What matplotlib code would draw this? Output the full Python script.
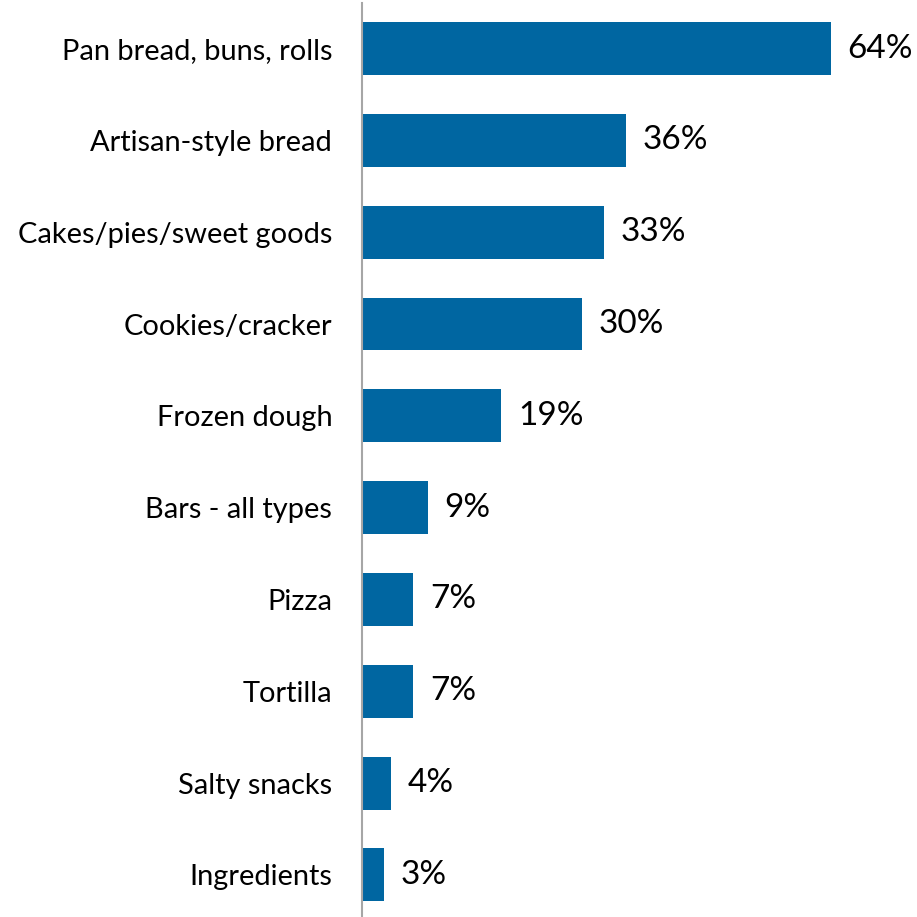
import matplotlib
matplotlib.use("Agg")
import matplotlib.pyplot as plt

categories = ["Pan bread, buns, rolls", "Artisan-style bread", "Cakes/pies/sweet goods",
              "Cookies/cracker", "Frozen dough", "Bars - all types", "Pizza",
              "Tortilla", "Salty snacks", "Ingredients"]
values = [64, 36, 33, 30, 19, 9, 7, 7, 4, 3]

plt.rcParams['font.family'] = ['Lato', 'DejaVu Sans']
fig = plt.figure(figsize=(9.17, 9.17), dpi=100)
ax = fig.add_axes([362/917, 0, 1 - 362/917, 1 - 3/917])
ypos = list(range(len(categories)))
ax.barh(ypos, values, height=0.577, color="#0066A1")
ax.set_xlim(0, 64 * (917 - 362) / 469)
ax.set_ylim(9 + 42/91.8, -45.5/91.8)
for s in ["top", "right", "bottom"]:
    ax.spines[s].set_visible(False)
ax.spines["left"].set_color("#A6A6A6")
ax.spines["left"].set_linewidth(1.5)
ax.set_xticks([])
ax.set_yticks(ypos)
ax.set_yticklabels(categories, fontsize=20.9, color="#000000")
ax.tick_params(axis="y", length=0, pad=21.5)
for y, v in zip(ypos, values):
    ax.annotate(f"{v}%", (v, y), xytext=(12, 0), textcoords="offset points",
                va="center", ha="left", fontsize=24, color="#000000")
fig.savefig("out.png", dpi=100)
